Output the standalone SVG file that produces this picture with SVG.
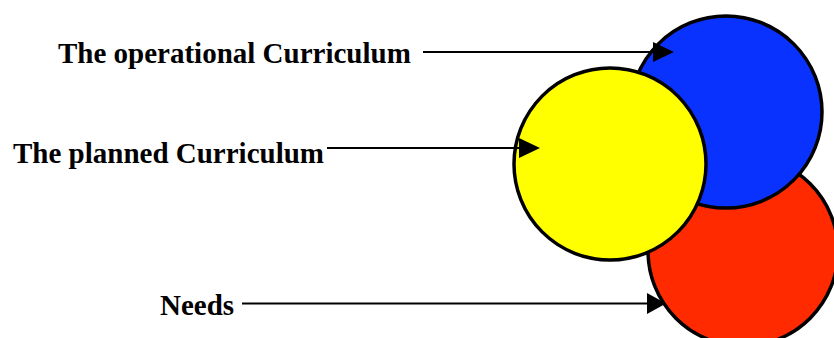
<svg xmlns="http://www.w3.org/2000/svg" width="834" height="338" viewBox="0 0 834 338">
<style>
.c{stroke:#000;stroke-width:3.5}
.lbl{font-family:"Liberation Serif","Times New Roman",serif;font-weight:bold;font-size:29px;fill:#000}
.ln{stroke:#000;stroke-width:2;fill:none}
.ah{fill:#000}
</style>
<rect width="834" height="338" fill="#fff"/>
<g id="needs-circle"><circle class="c" cx="743" cy="251" r="95" fill="#ff2a00"/></g>
<g id="operational-circle"><circle class="c" cx="726" cy="112" r="96" fill="#0a32ff"/></g>
<g id="planned-circle"><circle class="c" cx="610" cy="164" r="96" fill="#ffff00"/></g>
<g id="label-operational"><text class="lbl" x="58" y="63">The operational Curriculum</text></g>
<g id="label-planned"><text class="lbl" x="13" y="163">The planned Curriculum</text></g>
<g id="label-needs"><text class="lbl" x="160" y="315">Needs</text></g>
<g id="connectors">
<line class="ln" x1="423" y1="52" x2="655" y2="52"/>
<polygon class="ah" points="653,42 674,52 653,62"/>
<line class="ln" x1="327" y1="148" x2="521" y2="148"/>
<polygon class="ah" points="519,138 540,148 519,158"/>
<line class="ln" x1="242" y1="303.5" x2="649" y2="303.5"/>
<polygon class="ah" points="647,293 666,303.5 647,314"/>
</g>
</svg>
